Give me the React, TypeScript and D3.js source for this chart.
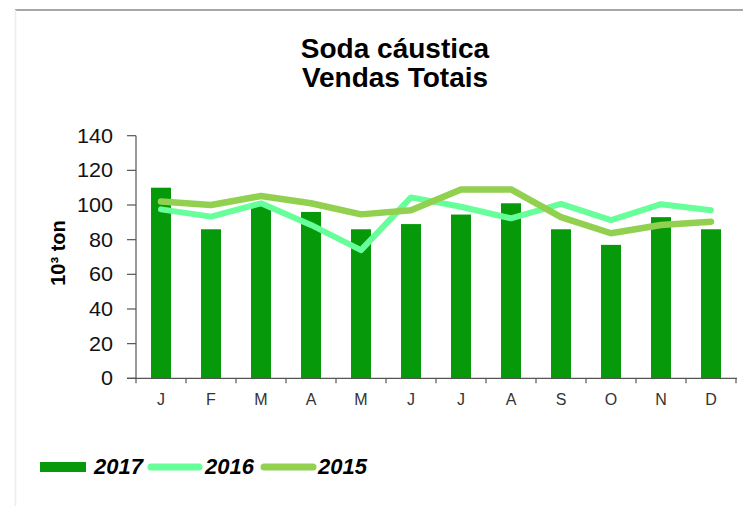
import React from "react";
import * as d3 from "d3";

const months = ["J", "F", "M", "A", "M", "J", "J", "A", "S", "O", "N", "D"];
const sales2017 = [110, 86, 100, 96, 86, 89, 94.5, 101, 86, 77, 93, 86];
const sales2016 = [97.5, 93.3, 101, 88.5, 74, 104.4, 99, 92.3, 100.6, 91.3, 100.5, 97];
const sales2015 = [102, 100, 105.2, 101, 94.6, 97, 109, 109, 93, 83.7, 88.5, 90.4];
const yTicks = [0, 20, 40, 60, 80, 100, 120, 140];
const titleLines = ["Soda cáustica", "Vendas Totais"];
const yLabel = "10³ ton";
const seriesNames = ["2017", "2016", "2015"];

const W = 743;
const H = 506;
const plot = { left: 136, right: 736, top: 135.7, bottom: 378.3 };
const C2017 = "#069a0b";
const C2016 = "#66ff99";
const C2015 = "#92d050";

export default function App() {
  const idx = months.map((_, i) => i);
  const x = d3.scaleBand<number>().domain(idx).range([plot.left, plot.right]).paddingInner(0.6).paddingOuter(0.3);
  const xb = d3.scaleBand<number>().domain(idx).range([plot.left, plot.right]);
  const y = d3.scaleLinear().domain([0, 140]).range([plot.bottom, plot.top]);
  const line = d3
    .line<number>()
    .x((_, i) => (xb(i) as number) + xb.bandwidth() / 2)
    .y((d) => y(d));

  return (
    <svg width={W} height={H} style={{ position: "absolute", left: 0, top: 0 }} fontFamily="Liberation Sans, Arial, sans-serif">
      <rect x={0} y={0} width={W} height={H} fill="#fff" />
      <line x1={15} x2={W} y1={10} y2={10} stroke="#8a8a8a" strokeWidth={1.5} />
      <line x1={15.5} x2={15.5} y1={10} y2={H} stroke="#ececec" strokeWidth={1.5} />

      {titleLines.map((t, i) => (
        <text key={i} x={395} y={57.5 + i * 29.5} textAnchor="middle" fontSize={28} fontWeight="bold" fill="#000">
          {t}
        </text>
      ))}

      {/* y axis */}
      <line x1={plot.left} x2={plot.left} y1={plot.top} y2={plot.bottom} stroke="#555" strokeWidth={1.2} />
      {yTicks.map((t) => (
        <g key={t}>
          <line x1={plot.left - 9} x2={plot.left} y1={y(t)} y2={y(t)} stroke="#555" strokeWidth={1.2} />
          <text transform={`translate(113,${y(t) + 7}) scale(1.08,1)`} textAnchor="end" fontSize={20} fill="#111">
            {t}
          </text>
        </g>
      ))}
      <text transform={`translate(65,253) rotate(-90)`} textAnchor="middle" fontSize={20} fontWeight="bold" fill="#000">
        {yLabel}
      </text>

      {/* bars */}
      {sales2017.map((v, i) => (
        <rect key={i} x={x(i)} y={y(v)} width={x.bandwidth()} height={y(0) - y(v)} fill={C2017} />
      ))}

      {/* x axis */}
      <line x1={plot.left - 9} x2={plot.right + 1} y1={plot.bottom} y2={plot.bottom} stroke="#555" strokeWidth={1.2} />
      {d3.range(13).map((i) => {
        const px = plot.left + i * xb.step();
        return <line key={i} x1={px} x2={px} y1={plot.bottom} y2={plot.bottom + 5} stroke="#555" strokeWidth={1.2} />;
      })}
      {months.map((m, i) => (
        <text key={i} x={(xb(i) as number) + xb.bandwidth() / 2} y={405} textAnchor="middle" fontSize={16} fill="#333">
          {m}
        </text>
      ))}

      {/* lines */}
      <path d={line(sales2016) || ""} fill="none" stroke={C2016} strokeWidth={6} strokeLinejoin="round" strokeLinecap="round" />
      <path d={line(sales2015) || ""} fill="none" stroke={C2015} strokeWidth={6.5} strokeLinejoin="round" strokeLinecap="round" />

      {/* legend */}
      <rect x={40} y={462} width={46} height={10} fill={C2017} />
      <text x={94} y={474} fontSize={22} fontWeight="bold" fontStyle="italic" fill="#000">{seriesNames[0]}</text>
      <line x1={151} x2={199} y1={467} y2={467} stroke={C2016} strokeWidth={7} strokeLinecap="round" />
      <text x={205} y={474} fontSize={22} fontWeight="bold" fontStyle="italic" fill="#000">{seriesNames[1]}</text>
      <line x1={264} x2={313} y1={467} y2={467} stroke={C2015} strokeWidth={7} strokeLinecap="round" />
      <text x={318} y={474} fontSize={22} fontWeight="bold" fontStyle="italic" fill="#000">{seriesNames[2]}</text>
    </svg>
  );
}
